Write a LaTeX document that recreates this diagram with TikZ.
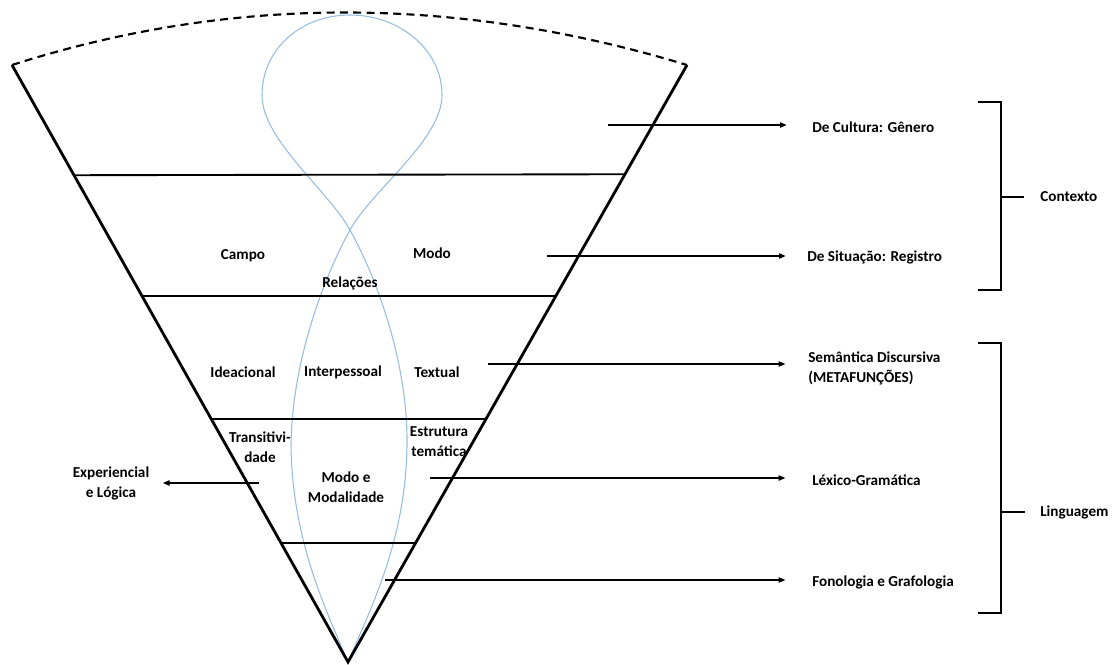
\documentclass[tikz,border=0pt]{standalone}
\usepackage{fontspec}
\setmainfont{Carlito}
\usetikzlibrary{arrows.meta,calc}
\definecolor{loopblue}{RGB}{150,188,225}
\begin{document}
\begin{tikzpicture}[x=0.75pt,y=-0.75pt,
  lbl/.style={font=\bfseries\fontsize{11.4}{15}\selectfont, inner sep=0pt, align=center},
  rlbl/.style={lbl, anchor=west, align=left},
  funnel/.style={line width=2.1pt},
  level/.style={line width=1.4pt},
  conn/.style={line width=0.9pt, -{Triangle[length=5pt,width=4pt]}},
  brace/.style={line width=1.5pt},
  blueloop/.style={draw=loopblue, line width=0.8pt}]
\useasboundingbox (0,0) rectangle (1119,664);

% funnel corners
\coordinate (L) at (12,65);
\coordinate (R) at (687,65);
\coordinate (B) at (348,662);

% dashed upper rim
\draw[line width=1.6pt, dash pattern=on 6pt off 4pt]
  (L) .. controls (231,-5) and (456,-5) .. (R);

% figure-eight loop
\draw[blueloop]
  (B) .. controls (326,610) and (292,540) .. (291,445)
      .. controls (292,360) and (325,275) .. (350,230)
      .. controls (372,190) and (442,140) .. (442,95)
      .. controls (442,50) and (400,15) .. (350,15)
      .. controls (300,15) and (262,50) .. (262,95)
      .. controls (262,140) and (328,190) .. (350,230)
      .. controls (375,275) and (408,360) .. (407,445)
      .. controls (406,540) and (370,610) .. (B);

% funnel sides
\draw[funnel] (L) -- (B) -- (R);

% strata boundaries
\draw[level] ($(L)!0.1846!(B)$) -- ($(R)!0.1830!(B)$);
\draw[level] ($(L)!0.3876!(B)$) -- ($(R)!0.3876!(B)$);
\draw[level] ($(L)!0.5923!(B)$) -- ($(R)!0.5923!(B)$);
\draw[level] ($(L)!0.8003!(B)$) -- ($(R)!0.8003!(B)$);

% labels inside the funnel
\node[lbl] (campo) at (243,256) {Campo};
\node[lbl] (modo) at (432,253) {Modo};
\node[lbl] (rel) at (350,283) {Relações};
\node[lbl] (idea) at (243,372) {Ideacional};
\node[lbl] (inter) at (343,372) {Interpessoal};
\node[lbl] (text) at (437,372) {Textual};
\node[lbl] (trans) at (260,447) {Transitivi-\\dade};
\node[lbl] (estr) at (439,442) {Estrutura\\temática};
\node[lbl] (mm) at (346,487) {Modo e\\Modalidade};

% stratum labels on the right
\node[rlbl] (cult) at (812,127) {De Cultura: Gênero};
\node[rlbl] (sit) at (807,257) {De Situação: Registro};
\node[rlbl] (sem) at (808,368) {Semântica Discursiva\\(METAFUNÇÕES)};
\node[rlbl] (lex) at (812,480) {Léxico-Gramática};
\node[rlbl] (fon) at (812,582) {Fonologia e Grafologia};
\node[lbl] (exp) at (111,483) {Experiencial\\e Lógica};

% arrow starts
\coordinate (s1) at (608,125);
\coordinate (s2) at (547,256);
\coordinate (s3) at (488,364);
\coordinate (s4) at (430,478);
\coordinate (s5) at (385,580);
\coordinate (s6) at (259,483);

\draw[conn, shorten >=19pt] (s1) -- (s1 -| cult.west);
\draw[conn, shorten >=16pt] (s2) -- (s2 -| sit.west);
\draw[conn, shorten >=17pt] (s3) -- (s3 -| sem.west);
\draw[conn, shorten >=20pt] (s4) -- (s4 -| lex.west);
\draw[conn, shorten >=20pt] (s5) -- (s5 -| fon.west);
\draw[conn, shorten >=10pt] (s6) -- (s6 -| exp.east);

% brackets
\node[rlbl] (ctx) at (1040,197) {Contexto};
\node[rlbl] (lng) at (1040,512) {Linguagem};
\draw[brace] (978,102) -- (1001,102) -- (1001,290) -- (978,290);
\draw[brace] (1001,197) -- ([xshift=-12pt]ctx.west);
\draw[brace] (978,343) -- (1001,343) -- (1001,613) -- (978,613);
\draw[brace] (1001,512) -- ([xshift=-11pt]lng.west);
\end{tikzpicture}
\end{document}
